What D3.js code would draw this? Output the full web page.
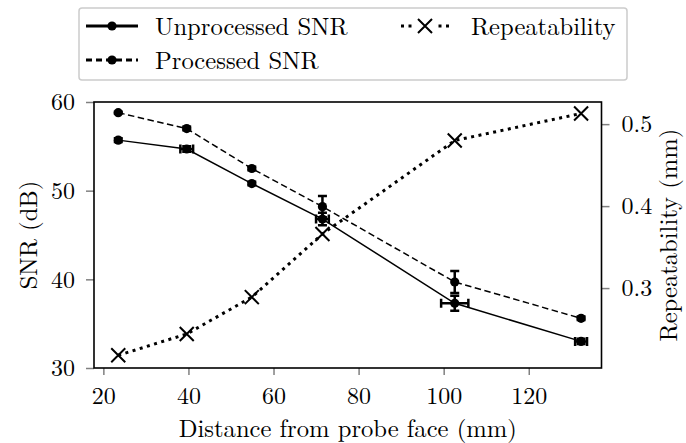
<!DOCTYPE html>
<html>
<head>
<meta charset="utf-8">
<script src="https://cdn.jsdelivr.net/npm/d3@7"></script>
<style>
  html, body { margin: 0; padding: 0; background: #fff; }
  svg { display: block; }
</style>
</head>
<body>
<svg id="chart" width="686" height="443"></svg>
<script>
// Distance from probe face (mm) for each measurement position
const distance = [23.5, 39.6, 54.9, 71.5, 102.6, 132.3];
const distanceErr = [0, 1.5, 0, 1.5, 3.2, 1.4];

// Signal-to-noise ratio (dB)
const unprocessedSNR = [55.7, 54.7, 50.8, 46.8, 37.3, 33.0];
const unprocessedErr = [0.2, 0.3, 0.2, 0.7, 0.85, 0.3];
const processedSNR = [58.8, 57.0, 52.5, 48.2, 39.7, 35.6];
const processedErr = [0.1, 0.2, 0.2, 1.2, 1.25, 0.2];

// Repeatability (mm)
const repeatability = [0.218, 0.244, 0.289, 0.366, 0.480, 0.513];

const xTicks = [20, 40, 60, 80, 100, 120];
const yLeftTicks = [30, 40, 50, 60];
const yRightTicks = [0.3, 0.4, 0.5];

const FONT = '"Latin Modern Roman", "Liberation Serif", serif';
const svg = d3.select("#chart");
const plot = { left: 94, right: 601.5, top: 102, bottom: 368 };

const x = d3.scaleLinear().domain([17.8, 137.1]).range([plot.left, plot.right]);
const yL = d3.scaleLinear().domain([30, 60]).range([plot.bottom, plot.top]);
const yR = d3.scaleLinear().domain([0.2025, 0.527]).range([plot.bottom, plot.top]);

const tickFont = 24;
const labelFont = 24.6;
const tickColor = "#808080";

function styleAxis(g) {
  g.attr("font-family", FONT).attr("font-size", tickFont);
  g.select(".domain").remove();
  g.selectAll(".tick line").attr("stroke", tickColor).attr("stroke-width", 1.5);
  g.selectAll(".tick text")
    .style("font-family", FONT)
    .style("font-size", tickFont + "px")
    .attr("fill", "#000");
}

svg.append("g")
  .attr("transform", `translate(0,${plot.bottom})`)
  .call(d3.axisBottom(x).tickValues(xTicks).tickSize(7).tickPadding(12).tickFormat(d3.format("d")))
  .call(styleAxis);

svg.append("g")
  .attr("transform", `translate(${plot.left},0)`)
  .call(d3.axisLeft(yL).tickValues(yLeftTicks).tickSize(8).tickPadding(11).tickFormat(d3.format("d")))
  .call(styleAxis);

svg.append("g")
  .attr("transform", `translate(${plot.right},0)`)
  .call(d3.axisRight(yR).tickValues(yRightTicks).tickSize(8).tickPadding(12).tickFormat(d3.format(".1f")))
  .call(styleAxis);

// Frame
svg.append("rect")
  .attr("x", plot.left).attr("y", plot.top)
  .attr("width", plot.right - plot.left).attr("height", plot.bottom - plot.top)
  .attr("fill", "none").attr("stroke", "#000").attr("stroke-width", 1.6);

const idx = d3.range(distance.length);

// Repeatability: dotted line with X markers
svg.append("path")
  .datum(idx)
  .attr("fill", "none").attr("stroke", "#000").attr("stroke-width", 3)
  .attr("stroke-dasharray", "3,4.5")
  .attr("d", d3.line().x(i => x(distance[i])).y(i => yR(repeatability[i])));

function cross(g, cx, cy, s) {
  g.append("path")
    .attr("d", `M${cx - s},${cy - s}L${cx + s},${cy + s}M${cx - s},${cy + s}L${cx + s},${cy - s}`)
    .attr("stroke", "#000").attr("stroke-width", 2).attr("fill", "none");
}
const crosses = svg.append("g");
idx.forEach(i => cross(crosses, x(distance[i]), yR(repeatability[i]), 7));

// SNR lines
svg.append("path")
  .datum(idx)
  .attr("fill", "none").attr("stroke", "#000").attr("stroke-width", 1.5)
  .attr("stroke-dasharray", "6.5,3.5")
  .attr("d", d3.line().x(i => x(distance[i])).y(i => yL(processedSNR[i])));

svg.append("path")
  .datum(idx)
  .attr("fill", "none").attr("stroke", "#000").attr("stroke-width", 1.5)
  .attr("d", d3.line().x(i => x(distance[i])).y(i => yL(unprocessedSNR[i])));

// Error bars with caps
function errorBars(g, vals, yErr, xErr) {
  const cap = 4.5;
  idx.forEach(i => {
    const cx = x(distance[i]), cy = yL(vals[i]);
    if (yErr[i] > 0) {
      const y0 = yL(vals[i] - yErr[i]), y1 = yL(vals[i] + yErr[i]);
      g.append("path")
        .attr("d", `M${cx},${y0}L${cx},${y1}M${cx - cap},${y0}L${cx + cap},${y0}M${cx - cap},${y1}L${cx + cap},${y1}`)
        .attr("stroke", "#000").attr("stroke-width", 2.5).attr("fill", "none");
    }
    if (xErr && xErr[i] > 0) {
      const x0 = x(distance[i] - xErr[i]), x1 = x(distance[i] + xErr[i]);
      g.append("path")
        .attr("d", `M${x0},${cy}L${x1},${cy}M${x0},${cy - cap}L${x0},${cy + cap}M${x1},${cy - cap}L${x1},${cy + cap}`)
        .attr("stroke", "#000").attr("stroke-width", 2.5).attr("fill", "none");
    }
  });
}
const eb = svg.append("g");
errorBars(eb, processedSNR, processedErr, null);
errorBars(eb, unprocessedSNR, unprocessedErr, distanceErr);

// Circle markers
svg.append("g").selectAll("circle")
  .data(idx).join("circle")
  .attr("cx", i => x(distance[i])).attr("cy", i => yL(processedSNR[i]))
  .attr("r", 4.6).attr("fill", "#000");
svg.append("g").selectAll("circle")
  .data(idx).join("circle")
  .attr("cx", i => x(distance[i])).attr("cy", i => yL(unprocessedSNR[i]))
  .attr("r", 4.6).attr("fill", "#000");

// Axis titles
function label(sel) {
  return sel.style("font-family", FONT).style("font-size", labelFont + "px").attr("fill", "#000");
}
svg.append("text")
  .attr("x", (plot.left + plot.right) / 2).attr("y", 437)
  .attr("text-anchor", "middle").call(label)
  .text("Distance from probe face (mm)");
svg.append("text")
  .attr("transform", `translate(37,${(plot.top + plot.bottom) / 2}) rotate(-90)`)
  .attr("text-anchor", "middle").call(label)
  .text("SNR (dB)");
svg.append("text")
  .attr("transform", `translate(677,${(plot.top + plot.bottom) / 2}) rotate(-90)`)
  .attr("text-anchor", "middle").call(label)
  .text("Repeatability (mm)");

// Legend
const legend = svg.append("g");
legend.append("rect")
  .attr("x", 79).attr("y", 8).attr("width", 548).attr("height", 72).attr("rx", 3)
  .attr("fill", "#fff").attr("stroke", "#ccc").attr("stroke-width", 1.5);

const legendItems = [
  { label: "Unprocessed SNR", x0: 86, x1: 138, y: 26, dash: null, width: 3, marker: "circle", tx: 155 },
  { label: "Processed SNR", x0: 86, x1: 138, y: 60, dash: "6,4", width: 3, marker: "circle", tx: 155 },
  { label: "Repeatability", x0: 401, x1: 449, y: 26, dash: "3,4.5", width: 3, marker: "cross", tx: 471 }
];
legendItems.forEach(d => {
  legend.append("line")
    .attr("x1", d.x0).attr("x2", d.x1).attr("y1", d.y).attr("y2", d.y)
    .attr("stroke", "#000").attr("stroke-width", d.width)
    .attr("stroke-dasharray", d.dash);
  const mx = (d.x0 + d.x1) / 2;
  if (d.marker === "circle") {
    legend.append("circle").attr("cx", mx).attr("cy", d.y).attr("r", 4.6).attr("fill", "#000");
  } else {
    legend.append("rect").attr("x", mx - 9).attr("y", d.y - 9).attr("width", 18).attr("height", 18).attr("fill", "#fff");
    cross(legend, mx, d.y, 7);
  }
  legend.append("text")
    .attr("x", d.tx).attr("y", d.y).attr("dy", "0.35em")
    .call(label)
    .text(d.label);
});
</script>
</body>
</html>
